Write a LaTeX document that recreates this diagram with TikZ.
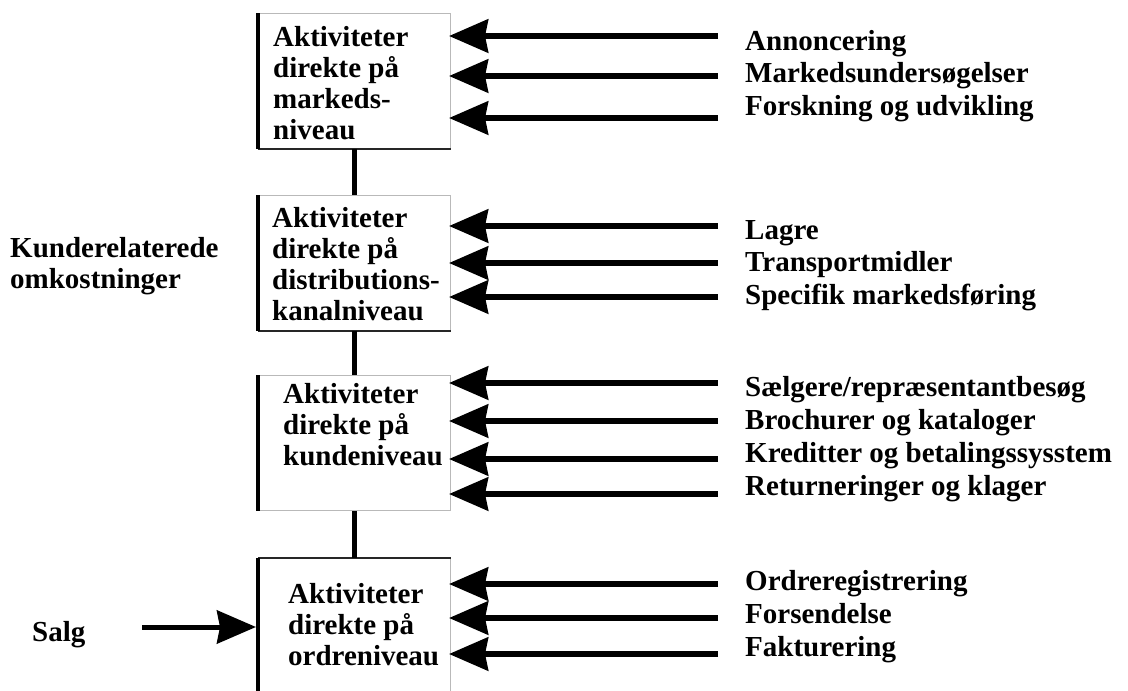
\documentclass[tikz,border=0pt]{standalone}
\usepackage{fontspec}
\setmainfont{Liberation Serif}
\usetikzlibrary{arrows.meta}
\newcommand{\fl}{\rule{0pt}{21pt}}
\begin{document}
\begin{tikzpicture}[x=1pt,y=-1pt,
  boxtxt/.style={anchor=north west, inner sep=0pt, align=left, font=\fontsize{29}{31}\selectfont\bfseries},
  lbl/.style={anchor=north west, inner sep=0pt, align=left, font=\fontsize{29}{32.5}\selectfont\bfseries},
  lblb/.style={lbl, font=\fontsize{29}{33}\selectfont\bfseries},
  actbox/.style={draw=gray!55, line width=1pt, fill=white, inner sep=0pt, anchor=north west, minimum width=192pt},
  feed/.style={line width=6pt, -{Stealth[length=39pt,width=33pt,inset=3pt]}, shorten >=-2pt},
  link/.style={line width=5pt},
  leftedge/.style={line width=3.2pt, black},
  darkedge/.style={line width=2.5pt, black!85}]
\useasboundingbox[fill=white] (0,0) rectangle (1128,691);

% boxes
\node[actbox, minimum height=135pt] (b1) at (258,13) {};
\node[actbox, minimum height=135pt] (b2) at (258,195) {};
\node[actbox, minimum height=135pt] (b3) at (258,375) {};
\node[actbox, minimum height=160pt] (b4) at (258,558) {};

\draw[darkedge] (b1.south west) -- (b1.south east);
\draw[darkedge] (b2.south west) -- (b2.south east);
\draw[darkedge, line width=2pt] (b4.north west) -- (b4.north east);
\foreach \b in {b1,b2,b3,b4} \draw[leftedge] (\b.north west) -- (\b.south west);

% vertical links
\draw[link] (b1.south) -- (b2.north);
\draw[link] (b2.south) -- (b3.north);
\draw[link] (b3.south) -- (b4.north);

% box texts
\node[boxtxt] (t1) at (273,25) {\fl Aktiviteter\\direkte på\\markeds-\\niveau};
\node[boxtxt] (t2) at (272,206) {\fl Aktiviteter\\direkte på\\distributions-\\kanalniveau};
\node[boxtxt] (t3) at (283,382) {\fl Aktiviteter\\direkte på\\kundeniveau};
\node[boxtxt] (t4) at (288,582) {\fl Aktiviteter\\direkte på\\ordreniveau};

% left labels
\node[lbl, font=\fontsize{29}{31}\selectfont\bfseries] (kunde) at (10,236) {\fl Kunderelaterede\\omkostninger};
\node[lbl] (salg) at (32,620) {\fl Salg};

% right labels
\node[lbl] (l1) at (745,29) {\fl Annoncering\\Markedsundersøgelser\\Forskning og udvikling};
\node[lbl] (l2) at (745,218) {\fl Lagre\\Transportmidler\\Specifik markedsføring};
\node[lblb] (l3) at (745,375) {\fl Sælgere/repræsentantbesøg\\Brochurer og kataloger\\Kreditter og betalingssysstem\\Returneringer og klager};
\node[lblb] (l4) at (745,569) {\fl Ordreregistrering\\Forsendelse\\Fakturering};

% arrow tails
\coordinate (a11) at (718,36);
\coordinate (a12) at (718,76);
\coordinate (a13) at (718,118);
\coordinate (a21) at (718,226);
\coordinate (a22) at (718,263);
\coordinate (a23) at (718,297);
\coordinate (a31) at (718,383);
\coordinate (a32) at (718,421);
\coordinate (a33) at (718,459);
\coordinate (a34) at (718,494);
\coordinate (a41) at (718,584);
\coordinate (a42) at (718,618);
\coordinate (a43) at (718,654);
\coordinate (st) at (142,627);

\foreach \a in {a11,a12,a13} \draw[feed] (\a) -- (b1.east |- \a);
\foreach \a in {a21,a22,a23} \draw[feed] (\a) -- (b2.east |- \a);
\foreach \a in {a31,a32,a33,a34} \draw[feed] (\a) -- (b3.east |- \a);
\foreach \a in {a41,a42,a43} \draw[feed] (\a) -- (b4.east |- \a);
\draw[feed, line width=5pt, shorten >=2pt] (st) -- (b4.west |- st);
\end{tikzpicture}
\end{document}
